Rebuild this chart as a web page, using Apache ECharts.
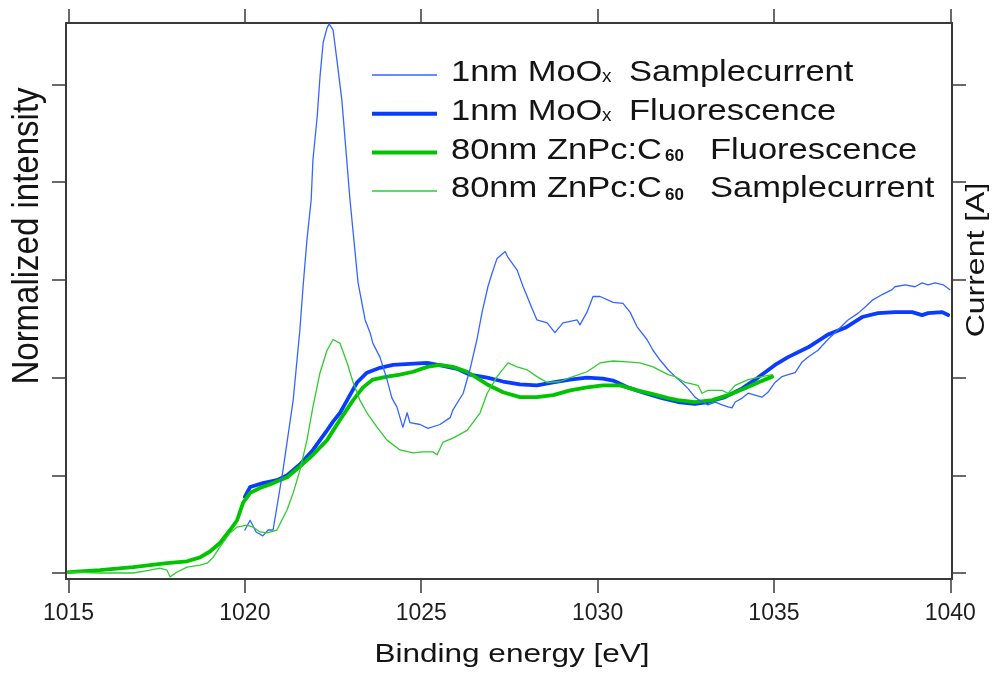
<!DOCTYPE html>
<html><head><meta charset="utf-8">
<script src="https://cdn.jsdelivr.net/npm/echarts@6/dist/echarts.min.js"></script>
<style>html,body{margin:0;padding:0;background:#fff}#c{width:995px;height:675px}</style>
</head><body><div id="c"></div>
<script>
// ---- data (Binding energy [eV], normalized intensity) ----
const xTicks = [1015, 1020, 1025, 1030, 1035, 1040];
const yTicks = [0, 1, 2, 3, 4, 5];
const seriesNames = ['1nm MoOx Samplecurrent', '1nm MoOx Fluorescence', '80nm ZnPc:C60 Fluorescence', '80nm ZnPc:C60 Samplecurrent'];

const moSampleCurrent = [[1020.00,0.44],[1020.15,0.54],[1020.32,0.42],[1020.51,0.38],[1020.66,0.44],[1020.80,0.44],[1021.08,1.05],[1021.37,1.77],[1021.56,2.49],[1021.65,2.93],[1021.76,3.41],[1021.88,3.82],[1021.93,4.23],[1022.05,4.67],[1022.13,5.08],[1022.22,5.43],[1022.33,5.58],[1022.39,5.62],[1022.50,5.56],[1022.61,5.25],[1022.75,4.84],[1022.98,3.82],[1023.21,2.97],[1023.41,2.59],[1023.55,2.46],[1023.63,2.35],[1023.83,2.21],[1024.03,1.98],[1024.17,1.79],[1024.31,1.70],[1024.48,1.49],[1024.60,1.64],[1024.68,1.54],[1024.97,1.52],[1025.19,1.48],[1025.53,1.52],[1025.82,1.59],[1025.90,1.67],[1026.19,1.84],[1026.38,2.08],[1026.58,2.39],[1026.72,2.66],[1026.89,2.93],[1027.01,3.07],[1027.15,3.22],[1027.38,3.29],[1027.46,3.23],[1027.72,3.10],[1027.89,2.93],[1028.14,2.71],[1028.28,2.59],[1028.57,2.56],[1028.79,2.46],[1029.02,2.56],[1029.42,2.59],[1029.50,2.54],[1029.70,2.67],[1029.87,2.83],[1030.07,2.83],[1030.44,2.77],[1030.72,2.76],[1030.92,2.67],[1031.12,2.52],[1031.40,2.39],[1031.57,2.28],[1031.77,2.18],[1032.00,2.08],[1032.20,2.01],[1032.39,1.95],[1032.56,1.89],[1032.76,1.80],[1032.96,1.75],[1033.13,1.72],[1033.33,1.75],[1033.53,1.72],[1033.70,1.70],[1033.81,1.69],[1033.90,1.75],[1034.10,1.79],[1034.27,1.84],[1034.46,1.82],[1034.66,1.80],[1034.83,1.85],[1035.03,1.95],[1035.23,2.01],[1035.40,2.03],[1035.60,2.05],[1035.80,2.16],[1035.97,2.21],[1036.25,2.28],[1036.53,2.39],[1036.73,2.46],[1037.10,2.59],[1037.39,2.66],[1037.58,2.72],[1037.78,2.79],[1038.07,2.85],[1038.35,2.90],[1038.43,2.93],[1038.72,2.95],[1039.00,2.93],[1039.20,2.97],[1039.37,2.95],[1039.57,2.97],[1039.80,2.95],[1039.99,2.90]];

const moFluorescence = [[1020.00,0.78],[1020.15,0.88],[1020.51,0.92],[1020.91,0.95],[1021.20,1.00],[1021.56,1.11],[1021.93,1.26],[1022.33,1.46],[1022.50,1.55],[1022.70,1.64],[1022.90,1.77],[1023.18,1.95],[1023.46,2.05],[1023.83,2.10],[1024.20,2.13],[1024.68,2.14],[1025.17,2.15],[1025.62,2.12],[1026.02,2.09],[1026.38,2.03],[1026.87,2.00],[1027.32,1.96],[1027.80,1.93],[1028.28,1.92],[1028.74,1.95],[1029.22,1.98],[1029.70,2.00],[1030.15,1.99],[1030.44,1.97],[1030.86,1.90],[1031.35,1.84],[1031.83,1.79],[1032.28,1.75],[1032.76,1.73],[1033.13,1.75],[1033.61,1.80],[1034.10,1.89],[1034.55,2.00],[1035.03,2.13],[1035.40,2.21],[1035.97,2.31],[1036.53,2.44],[1037.02,2.51],[1037.50,2.62],[1037.95,2.66],[1038.43,2.67],[1038.92,2.67],[1039.20,2.64],[1039.37,2.66],[1039.77,2.67],[1039.94,2.64]];

const znFluorescence = [[1015.00,0.01],[1015.89,0.03],[1016.83,0.06],[1017.79,0.10],[1018.36,0.12],[1018.73,0.16],[1019.01,0.22],[1019.30,0.31],[1019.58,0.44],[1019.78,0.54],[1019.95,0.72],[1020.15,0.82],[1020.43,0.87],[1020.80,0.92],[1021.20,0.98],[1021.56,1.09],[1021.93,1.21],[1022.33,1.36],[1022.70,1.57],[1023.07,1.77],[1023.35,1.90],[1023.63,1.98],[1024.03,2.01],[1024.40,2.03],[1024.77,2.06],[1025.17,2.11],[1025.53,2.13],[1025.90,2.11],[1026.30,2.06],[1026.87,1.93],[1027.32,1.85],[1027.80,1.80],[1028.28,1.80],[1028.74,1.82],[1029.22,1.87],[1029.70,1.90],[1030.15,1.92],[1030.64,1.92],[1031.12,1.87],[1031.57,1.83],[1032.00,1.79],[1032.28,1.77],[1032.76,1.75],[1033.25,1.77],[1033.70,1.82],[1034.18,1.89],[1034.55,1.95],[1034.95,2.01]];

const znSampleCurrent = [[1015.00,0.01],[1015.89,0.00],[1016.83,0.00],[1017.31,0.03],[1017.59,0.05],[1017.79,0.03],[1017.88,-0.04],[1018.08,0.01],[1018.36,0.06],[1018.73,0.08],[1018.93,0.10],[1019.10,0.16],[1019.30,0.27],[1019.58,0.41],[1019.78,0.47],[1020.06,0.49],[1020.23,0.47],[1020.43,0.42],[1020.63,0.41],[1020.91,0.44],[1021.20,0.65],[1021.37,0.82],[1021.56,1.05],[1021.76,1.36],[1021.93,1.70],[1022.13,2.05],[1022.33,2.28],[1022.50,2.39],[1022.70,2.35],[1022.90,2.15],[1023.07,1.95],[1023.26,1.77],[1023.46,1.64],[1023.75,1.49],[1024.03,1.36],[1024.40,1.26],[1024.77,1.23],[1025.05,1.24],[1025.33,1.24],[1025.45,1.21],[1025.62,1.34],[1025.90,1.38],[1026.30,1.46],[1026.67,1.64],[1026.87,1.84],[1027.15,2.01],[1027.46,2.15],[1027.72,2.11],[1028.00,2.08],[1028.28,2.01],[1028.57,1.95],[1028.94,1.96],[1029.22,2.00],[1029.70,2.06],[1030.07,2.15],[1030.44,2.17],[1030.84,2.16],[1031.20,2.15],[1031.57,2.11],[1032.00,2.03],[1032.20,2.01],[1032.48,1.95],[1032.85,1.92],[1032.96,1.84],[1033.13,1.87],[1033.53,1.87],[1033.70,1.84],[1033.90,1.92],[1034.27,1.98],[1034.66,2.01],[1034.95,2.03]];

// ---- styling ----
const AX = '#3a3a3a';
const TXT = '#141414';
const FONT = '"Liberation Sans", Arial, sans-serif';
const C_THIN_BLUE = '#3466ff';
const C_THICK_BLUE = '#0a3cff';
const C_THICK_GREEN = '#00c400';
const C_THIN_GREEN = '#2fcc2f';
const X_MIN = 1014.929, X_MAX = 1040.048;
const Y_MIN = -0.0614, Y_MAX = 5.6295;

function xAx(pos, labels) {
  return {
    type: 'value', position: pos, min: X_MIN, max: X_MAX,
    axisLine: { show: true, onZero: false, lineStyle: { color: AX, width: 2 } },
    axisTick: { show: true, inside: false, length: 14, customValues: xTicks, lineStyle: { color: AX, width: 1.5 } },
    axisLabel: { show: labels, customValues: xTicks, margin: 23, fontSize: 23, fontFamily: FONT, color: '#1e1e1e', formatter: v => String(v) },
    splitLine: { show: false }
  };
}
function yAx(pos) {
  return {
    type: 'value', position: pos, min: Y_MIN, max: Y_MAX,
    axisLine: { show: true, onZero: false, lineStyle: { color: AX, width: 2 } },
    axisTick: { show: true, inside: false, length: 14, customValues: yTicks, lineStyle: { color: AX, width: 1.5 } },
    axisLabel: { show: false, customValues: yTicks },
    splitLine: { show: false }
  };
}
function ser(name, data, color, width, z) {
  return { name, type: 'line', data, xAxisIndex: 0, yAxisIndex: 0, symbol: 'none', showSymbol: false,
    lineStyle: { color, width, join: 'round', cap: 'round' }, itemStyle: { color }, z, silent: true };
}

// legend (drawn as graphic)
const legRows = [
  { color: C_THIN_BLUE, w: 1.5, main: '1nm MoO', sub: 'x', tail: 'Samplecurrent', tailX: 629 },
  { color: C_THICK_BLUE, w: 4, main: '1nm MoO', sub: 'x', tail: 'Fluorescence', tailX: 629 },
  { color: C_THICK_GREEN, w: 4, main: '80nm ZnPc:C', sub: '60', tail: 'Fluorescence', tailX: 710 },
  { color: C_THIN_GREEN, w: 1.5, main: '80nm ZnPc:C', sub: '60', tail: 'Samplecurrent', tailX: 710 }
];
const graphics = [];
legRows.forEach((r, i) => {
  const base = 83.3 + i * 38.7;
  const lineY = 75 + i * 38.7;
  graphics.push({ type: 'line', shape: { x1: 372, y1: lineY, x2: 437, y2: lineY }, style: { stroke: r.color, lineWidth: r.w }, z: 100 });
  graphics.push({ type: 'text', x: 451, y: base - 10.4, scaleX: 1.15, style: { text: r.main, font: '30px ' + FONT, fill: TXT, align: 'left', verticalAlign: 'middle' }, z: 100 });
  const subIsX = r.sub === 'x';
  const subF = subIsX ? 19 : 17;
  const subBase = subIsX ? base : base + 1.5;
  graphics.push({ type: 'text', x: subIsX ? 602 : 665, y: subBase - 0.3465 * subF, style: { text: r.sub, font: (subIsX ? '' : 'bold ') + subF + 'px ' + FONT, fill: TXT, align: 'left', verticalAlign: 'middle' }, z: 100 });
  graphics.push({ type: 'text', x: r.tailX, y: base - 10.4, scaleX: 1.15, style: { text: r.tail, font: '30px ' + FONT, fill: TXT, align: 'left', verticalAlign: 'middle' }, z: 100 });
});
// axis titles
graphics.push({ type: 'text', x: 512, y: 655, scaleX: 1.26, style: { text: 'Binding energy [eV]', font: '25px ' + FONT, fill: TXT, align: 'center', verticalAlign: 'middle' } });
graphics.push({ type: 'text', x: 27.5, y: 236, rotation: Math.PI / 2, scaleY: 1.12, style: { text: 'Normalized intensity', font: '33px ' + FONT, fill: TXT, align: 'center', verticalAlign: 'middle' } });
graphics.push({ type: 'text', x: 977, y: 260, rotation: Math.PI / 2, scaleY: 0.8, style: { text: 'Current [A]', font: '32px ' + FONT, fill: TXT, align: 'center', verticalAlign: 'middle' } });

const chart = echarts.init(document.getElementById('c'), null, { renderer: 'canvas' });
chart.setOption({
  animation: false,
  backgroundColor: '#ffffff',
  grid: { left: 66, right: 43, top: 23, bottom: 96, outerBoundsMode: 'none', containLabel: false },
  xAxis: [xAx('bottom', true), xAx('top', false)],
  yAxis: [yAx('left'), yAx('right')],
  series: [
    ser(seriesNames[1], moFluorescence, C_THICK_BLUE, 3.8, 2),
    ser(seriesNames[2], znFluorescence, C_THICK_GREEN, 3.8, 3),
    ser(seriesNames[0], moSampleCurrent, C_THIN_BLUE, 1.3, 4),
    ser(seriesNames[3], znSampleCurrent, C_THIN_GREEN, 1.3, 5)
  ],
  graphic: graphics
});
</script>
</body></html>
